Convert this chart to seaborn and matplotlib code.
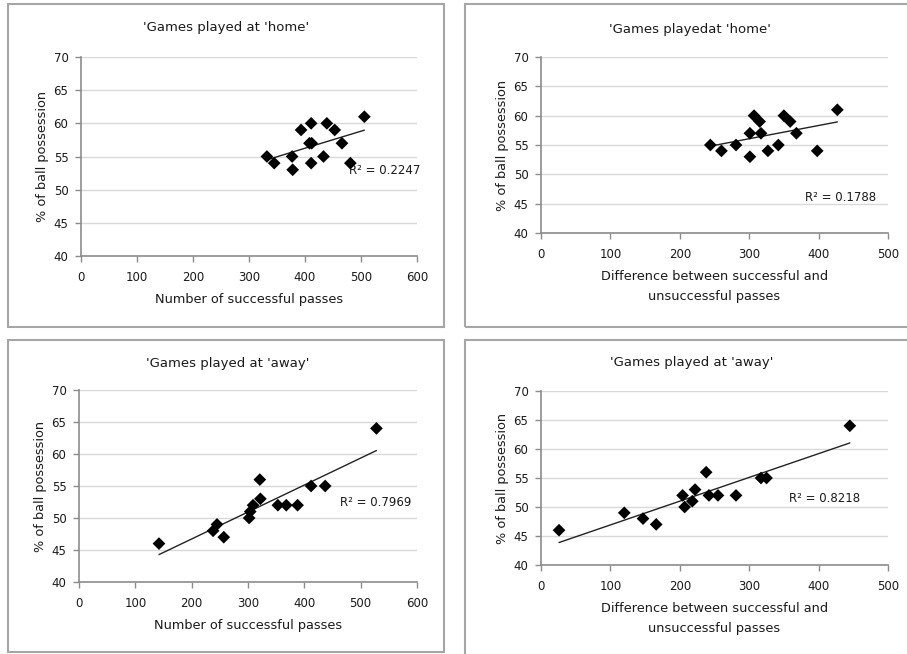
import seaborn as sns
import matplotlib.pyplot as plt
import matplotlib.patches as patches
import pandas as pd

# home games
home_passes = [332, 345, 377, 378, 393, 411, 412, 408, 411, 433, 439, 453, 466, 481, 506]
home_diff = [244, 260, 281, 301, 301, 307, 315, 317, 327, 342, 350, 359, 368, 398, 427]
home_poss_passes = [55, 54, 55, 53, 59, 60, 57, 57, 54, 55, 60, 59, 57, 54, 61]
home_poss_diff = [55, 54, 55, 53, 57, 60, 59, 57, 54, 55, 60, 59, 57, 54, 61]

# away games
away_passes = [142, 238, 245, 257, 302, 304, 309, 321, 322, 353, 368, 388, 412, 437, 528]
away_poss_passes = [46, 48, 49, 47, 50, 51, 52, 56, 53, 52, 52, 52, 55, 55, 64]
away_diff = [26, 120, 147, 166, 204, 207, 218, 222, 238, 242, 255, 281, 317, 325, 445]
away_poss_diff = [46, 49, 48, 47, 52, 50, 51, 53, 56, 52, 52, 52, 55, 55, 64]

titles = ["'Games played at 'home'", "'Games playedat 'home'",
          "'Games played at 'away'", "'Games played at 'away'"]
xlabels = ["Number of successful passes",
           "Difference between successful and\nunsuccessful passes",
           "Number of successful passes",
           "Difference between successful and\nunsuccessful passes"]
r2_labels = ["R\u00b2 = 0.2247", "R\u00b2 = 0.1788", "R\u00b2 = 0.7969", "R\u00b2 = 0.8218"]
r2_pos = [(478, 52.9), (381, 46.1), (463, 52.4), (358, 51.4)]
xmax = [600, 500, 600, 500]

panels = [(home_passes, home_poss_passes), (home_diff, home_poss_diff),
          (away_passes, away_poss_passes), (away_diff, away_poss_diff)]

sns.set_theme(style="white")
plt.rcParams['font.family'] = ['DejaVu Sans']

W, H = 907, 654
fig = plt.figure(figsize=(W / 100, H / 100), dpi=100)

# chart-area frames (pixels: left, top, right, bottom)
boxes = [(8, 4, 444, 327), (465, 4, 912, 327), (8, 340, 444, 652), (465, 340, 912, 660)]
for l, t, r, b in boxes:
    fig.patches.append(patches.Rectangle((l / W, 1 - b / H), (r - l) / W, (b - t) / H,
                                         transform=fig.transFigure, fill=False,
                                         edgecolor="#a6a6a6", linewidth=1.5))

# axes positions in pixels: x0, x_end, y_top, y_bottom
axpos = [(81, 417, 57, 256), (541, 888, 57, 233), (79, 417, 390, 582), (541, 888, 391, 565)]
title_pos = [(226, 27), (690, 29), (228, 363), (692, 362)]

for i, (xs, ys) in enumerate(panels):
    x0, x1, yt, yb = axpos[i]
    ax = fig.add_axes([x0 / W, 1 - yb / H, (x1 - x0) / W, (yb - yt) / H])
    df = pd.DataFrame({"x": xs, "y": ys})
    sns.regplot(data=df, x="x", y="y", ax=ax, ci=None, marker="D", color="black",
                scatter_kws={"s": 42, "zorder": 3, "edgecolor": "none", "alpha": 1},
                line_kws={"linewidth": 1.0, "color": "#222222", "zorder": 2})
    ax.set_xlim(0, xmax[i])
    ax.set_ylim(40, 70)
    ax.set_xticks(range(0, xmax[i] + 1, 100))
    ax.set_yticks(range(40, 71, 5))
    ax.yaxis.grid(True, color="#d9d9d9", linewidth=1.0)
    ax.set_axisbelow(True)
    for s in ["top", "right"]:
        ax.spines[s].set_visible(False)
    for s in ["left", "bottom"]:
        ax.spines[s].set_color("#8c8c8c")
        ax.spines[s].set_linewidth(1.2)
    ax.tick_params(axis="both", direction="out", length=4, width=1, color="#8c8c8c",
                   labelsize=8.5, labelcolor="#1a1a1a", bottom=True, left=True)
    ax.tick_params(axis="x", pad=7)
    ax.tick_params(axis="y", pad=5)
    ax.set_xlabel(xlabels[i], fontsize=9.3, color="#1a1a1a", labelpad=6, linespacing=1.75)
    ax.set_ylabel("% of ball possession", fontsize=9.3, color="#1a1a1a", labelpad=3)
    ax.text(r2_pos[i][0], r2_pos[i][1], r2_labels[i], fontsize=8.5, color="#1a1a1a",
            va="center", ha="left", zorder=2)
    tx, ty = title_pos[i]
    fig.text(tx / W, 1 - ty / H, titles[i], fontsize=9.5, color="#1a1a1a",
             ha="center", va="center")

fig.savefig("out.png", dpi=100, facecolor="white")
